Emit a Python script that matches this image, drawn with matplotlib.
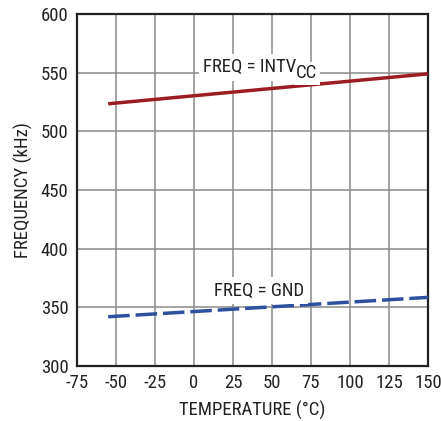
import matplotlib
matplotlib.use("Agg")
import matplotlib.pyplot as plt
from matplotlib import font_manager

names = {f.name for f in font_manager.fontManager.ttflist}
prefs = ["Liberation Sans Narrow", "Arial Narrow", "Roboto Condensed", "Archivo Narrow",
         "Fira Sans Condensed", "IBM Plex Sans Condensed", "PT Sans Narrow", "Liberation Sans"]
chosen = next((p for p in prefs if p in names), "DejaVu Sans")
plt.rcParams['font.family'] = [chosen, "DejaVu Sans"]
plt.rcParams['axes.unicode_minus'] = False

temp = [-55, 150]
freq_intvcc = [523.5, 549]
freq_gnd = [342, 358.5]
xticks = [-75, -50, -25, 0, 25, 50, 75, 100, 125, 150]
yticks = [300, 350, 400, 450, 500, 550, 600]

FS = 13.5
TC = "#222222"

fig = plt.figure(figsize=(4.41, 4.21), dpi=100)
ax = fig.add_axes([0.1746, 0.1306, 0.7959, 0.8361])
ax.set_xlim(-75, 150)
ax.set_ylim(300, 600)
ax.set_xticks(xticks)
ax.set_yticks(yticks)
ax.grid(True, color="#8a8a8a", lw=1.1)
ax.set_axisbelow(True)
ax.tick_params(length=0, labelsize=FS, colors=TC, pad=6)
for s in ax.spines.values():
    s.set_linewidth(1.6)
    s.set_color(TC)

ax.plot(temp, freq_intvcc, color="#9b1c22", lw=2.5, solid_capstyle="butt", zorder=3)
ax.plot(temp, freq_gnd, color="#2f4f9f", lw=2.5, dashes=(6.2, 1.7), zorder=3)

# label with full-size lowered subscript; white backgrounds drawn underneath
wbox = dict(facecolor="white", edgecolor="none", pad=3)
cbox = dict(facecolor="white", edgecolor="none", pad=1.5)
for z, col, bb, cb in [(3.5, "none", wbox, cbox), (4, TC, None, None)]:
    t = ax.text(5.8, 554.5, "FREQ = INTV", ha="left", va="center", fontsize=FS,
                color=col, bbox=bb, zorder=z)
    ax.annotate("CC", xy=(1, 0), xycoords=t, xytext=(0, -1.5), textcoords="offset points",
                ha="left", va="baseline", fontsize=FS, color=col, bbox=cb, zorder=z)

ax.text(41.7, 364.3, "FREQ = GND", ha="center", va="center", fontsize=FS,
        color=TC, bbox=wbox, zorder=4)

ax.set_xlabel("TEMPERATURE (°C)", fontsize=FS, color=TC, labelpad=6)
ax.set_ylabel("FREQUENCY (kHz)", fontsize=FS, color=TC, labelpad=6)

fig.savefig("out.png", dpi=100)
